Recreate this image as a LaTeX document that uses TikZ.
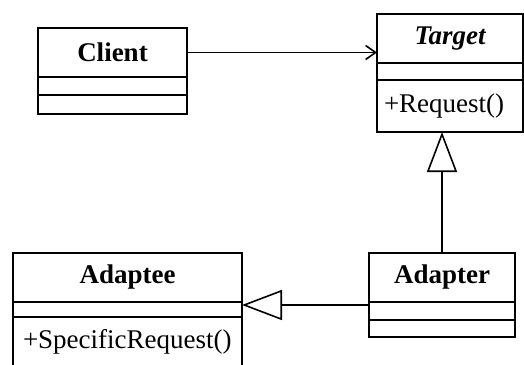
\documentclass[tikz,border=0pt]{standalone}
\usepackage{fontspec}
\setmainfont{Liberation Serif}
\usetikzlibrary{positioning,arrows.meta}
\newcommand{\umlFont}{\fontsize{27}{30}\selectfont}

\begin{document}
\begin{tikzpicture}[x=1pt, y=-1pt,
    classname/.style={draw, line width=1.6pt, minimum height=49pt, inner sep=0pt, outer sep=0pt, font=\umlFont\bfseries},
    classpart/.style={draw, line width=1.6pt, inner xsep=5pt, inner ysep=0pt, outer sep=0pt, font=\umlFont, align=left},
    assoc/.style={line width=1.6pt, -{Straight Barb[length=10pt, width=14pt]}},
    inherit/.style={line width=1.6pt, -{Triangle[open, length=40pt, width=30pt]}}]
    \useasboundingbox (0,0) rectangle (524,364);
    % Client
    \node[classname, minimum width=149pt, anchor=north west] (client) at (38,28) {Client};
    \node[classpart, minimum width=149pt, minimum height=18pt, below=0pt of client] (clientattr) {};
    \node[classpart, minimum width=149pt, minimum height=19pt, below=0pt of clientattr] (clientops) {};
    % Target
    \node[classname, minimum width=146pt, anchor=north west, font=\umlFont\bfseries\itshape] (target) at (377,14) {Target};
    \node[classpart, minimum width=146pt, minimum height=17pt, below=0pt of target] (targetattr) {};
    \node[classpart, inner xsep=7pt, text width=132pt, minimum height=52pt, below=0pt of targetattr] (targetops) {+Request()};
    % Adaptee
    \node[classname, minimum width=229pt, anchor=north west] (adaptee) at (13,253) {Adaptee};
    \node[classpart, minimum width=229pt, minimum height=15pt, below=0pt of adaptee] (adapteeattr) {};
    \node[classpart, inner xsep=10pt, text width=209pt, minimum height=50pt, below=0pt of adapteeattr] (adapteeops) {+SpecificRequest()};
    % Adapter
    \node[classname, minimum width=146pt, anchor=north west] (adapter) at (369,253) {Adapter};
    \node[classpart, minimum width=146pt, minimum height=18pt, below=0pt of adapter] (adapterattr) {};
    \node[classpart, minimum width=146pt, minimum height=17pt, below=0pt of adapterattr] (adapterops) {};
    % connectors
    \draw[assoc] (client.east) -- (client.east -| target.west);
    \draw[inherit] (adapter.north) -- (adapter.north |- targetops.south);
    \draw[inherit] ([yshift=-3pt]adapter.south west) -- ([yshift=-3pt]adapter.south west -| adaptee.east);
\end{tikzpicture}
\end{document}
